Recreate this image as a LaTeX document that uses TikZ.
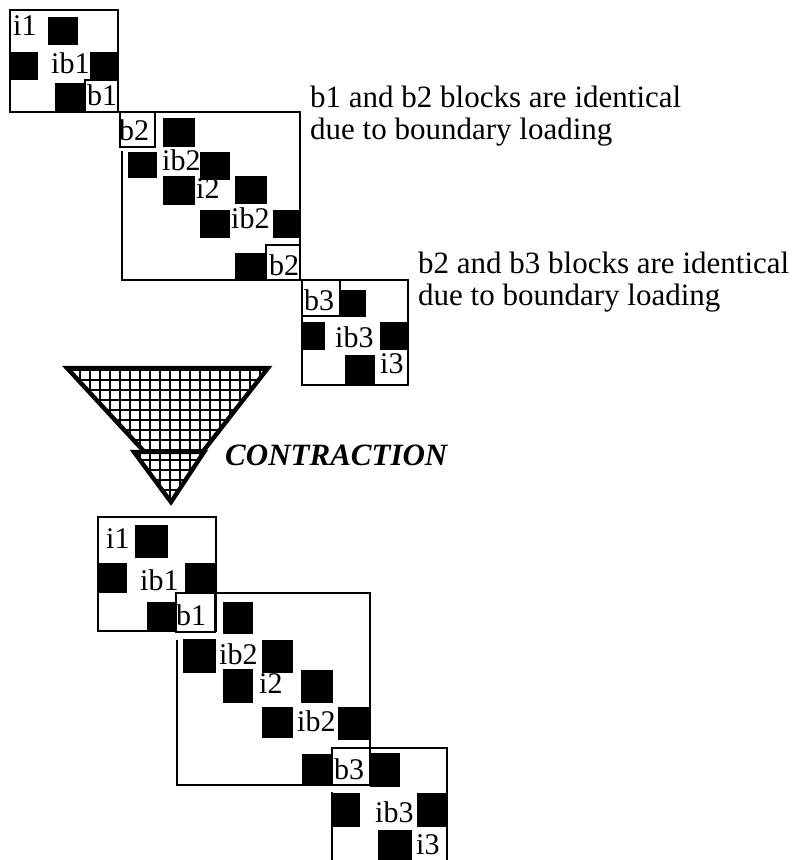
\documentclass[tikz,border=0pt]{standalone}
\usepackage{fontspec}
\setmainfont{Liberation Serif}
\begin{document}
\begin{tikzpicture}[x=1pt,y=-1pt,
  box/.style={line width=2.6pt,line join=miter},
  lbox/.style={line width=2.6pt,fill=white},
  lbl/.style={anchor=base west,inner sep=0pt,font=\fontsize{30}{30}\selectfont},
  note/.style={anchor=base west,inner sep=0pt,font=\fontsize{31}{33}\selectfont},
  hatch/.style={line width=2.9pt},
  tri/.style={line width=4.4pt,line join=miter},
]
\clip (0,0) rectangle (795,860);
\fill[white] (0,0) rectangle (795,860);

% ---------------- top: matrix 1
\fill (48,17) rectangle (78,45);
\fill (10,52) rectangle (38,80);
\fill (90,52) rectangle (118,79);
\fill (55,83) rectangle (85,112);
\draw[box] (10,10) rectangle (118,112);
\draw[lbox] (85,80) rectangle (118,112);
\node[lbl] (ti1) at (13,35) {i1};
\node[lbl] (tib1) at (51,73) {ib1};
\node[lbl] (tb1) at (87,105) {b1};

% ---------------- top: matrix 2
\fill (163,118) rectangle (195,147);
\fill (128,152) rectangle (157,178);
\fill (200,152) rectangle (230,180);
\fill (163,176) rectangle (195,205);
\fill (235,176) rectangle (267,204);
\fill (200,210) rectangle (230,238);
\fill (273,210) rectangle (300,238);
\fill (235,253) rectangle (266,280);
\draw[box] (122,151) -- (122,280) -- (300,280) -- (300,112) -- (120,112);
\draw[lbox] (120,112) rectangle (155,147);
\draw[lbox] (266,245) rectangle (300,280);
\node[lbl] (tb2a) at (119,140) {b2};
\node[lbl] (tib2a) at (162,170) {ib2};
\node[lbl] (ti2) at (196,198) {i2};
\node[lbl] (tib2b) at (231,228) {ib2};
\node[lbl] (tb2b) at (269,275) {b2};

% ---------------- top: matrix 3
\fill (340,290) rectangle (366,317);
\fill (302,322) rectangle (325,350);
\fill (380,322) rectangle (408,350);
\fill (345,355) rectangle (375,385);
\draw[box] (302,280) rectangle (408,385);
\draw[lbox] (302,280) rectangle (340,316);
\node[lbl] (tb3) at (304,310) {b3};
\node[lbl] (tib3) at (335,347) {ib3};
\node[lbl] (ti3) at (380,373) {i3};

% ---------------- notes
\node[note] (n1a) at (310,107) {b1 and b2 blocks are identical};
\node[note] (n1b) at (310,139) {due to boundary loading};
\node[note] (n2a) at (418,273) {b2 and b3 blocks are identical};
\node[note] (n2b) at (418,305) {due to boundary loading};

% ---------------- contraction arrow
\begin{scope}
  \clip (67,368) -- (268,368) -- (176,486) -- cycle;
  \fill[white] (60,360) rectangle (280,495);
  \draw[hatch] (60pt,-490pt) grid[step=10pt] (280pt,-360pt);
\end{scope}
\draw[tri] (67,368) -- (268,368) -- (176,486) -- cycle;
\begin{scope}
  \clip (134,452) -- (204,452) -- (171,502) -- cycle;
  \fill[white] (125,445) rectangle (210,505);
  \draw[hatch] (120pt,-510pt) grid[step=10pt] (210pt,-440pt);
\end{scope}
\draw[tri] (134,452) -- (204,452) -- (171,502) -- cycle;
\node[anchor=base west,inner sep=0pt,font=\fontsize{31}{31}\selectfont\bfseries\itshape] (con) at (225,465) {CONTRACTION};

% ---------------- bottom: matrix 1'
\fill (135,525) rectangle (168,558);
\fill (98,563) rectangle (127,593);
\fill (185,563) rectangle (216,593);
\fill (147,602) rectangle (175,631);
\draw[box] (98,517) rectangle (216,631);
\node[lbl] (bi1) at (106,548) {i1};
\node[lbl] (bib1) at (140,590) {ib1};

% ---------------- bottom: matrix 2'
\fill (223,602) rectangle (253,634);
\fill (183,639) rectangle (216,673);
\fill (262,640) rectangle (293,673);
\fill (223,669) rectangle (253,703);
\fill (301,670) rectangle (333,703);
\fill (262,707) rectangle (293,738);
\fill (338,707) rectangle (370,740);
\fill (302,754) rectangle (332,785);
\draw[box] (177,640) -- (177,785) -- (370,785) -- (370,593) -- (214,593);
\draw[lbox] (176,593) rectangle (215,632);
\node[lbl] (bb1) at (176,625) {b1};
\node[lbl] (bib2a) at (219,664) {ib2};
\node[lbl] (bi2) at (259,693) {i2};
\node[lbl] (bib2b) at (297,731) {ib2};

% ---------------- bottom: matrix 3'
\fill (370,753) rectangle (400,787);
\fill (332,793) rectangle (360,827);
\fill (417,793) rectangle (447,827);
\fill (378,830) rectangle (412,870);
\draw[box] (332,792) -- (332,875) -- (447,875) -- (447,748) -- (370,748);
\draw[lbox] (332,748) rectangle (370,785);
\node[lbl] (bb3) at (334,779) {b3};
\node[lbl] (bib3) at (375,822) {ib3};
\node[lbl] (bi3) at (416,854) {i3};
\end{tikzpicture}
\end{document}
